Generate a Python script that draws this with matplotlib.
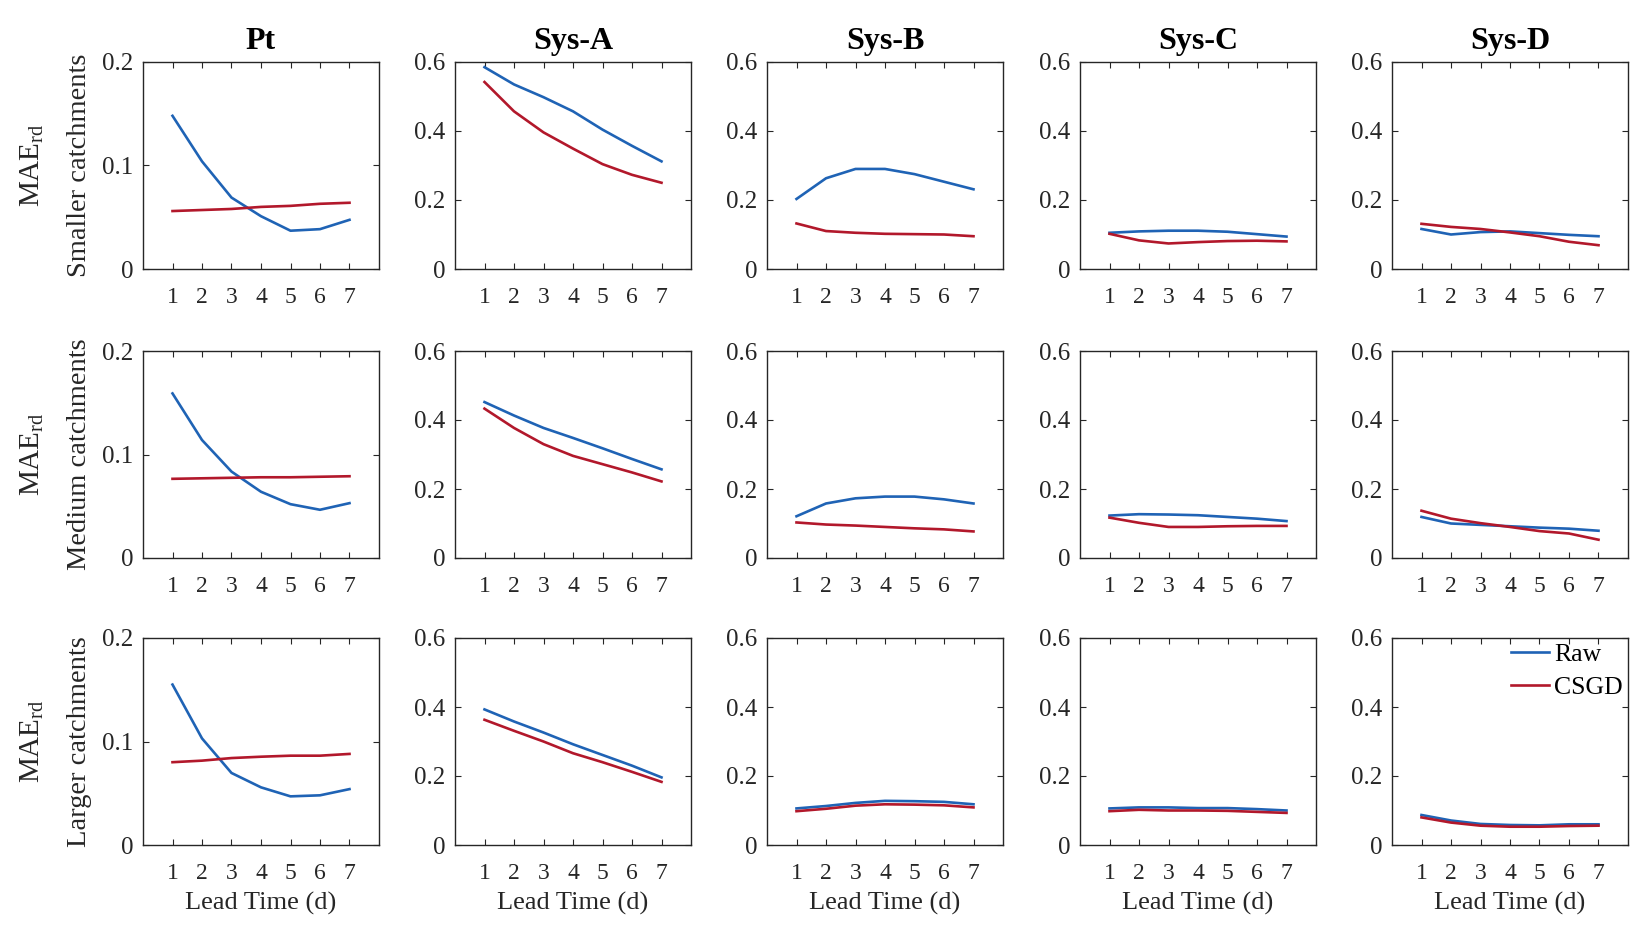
import numpy as np
import matplotlib
matplotlib.use('Agg')
import matplotlib.pyplot as plt
from matplotlib.ticker import FuncFormatter

plt.rcParams['font.family'] = 'Liberation Serif'
plt.rcParams['mathtext.fontset'] = 'custom'
plt.rcParams['mathtext.rm'] = 'Liberation Serif'
plt.rcParams['mathtext.it'] = 'Liberation Serif:italic'

lead_time = [1, 2, 3, 4, 5, 6, 7]
systems = ['Pt', 'Sys-A', 'Sys-B', 'Sys-C', 'Sys-D']
sizes = ['Smaller catchments', 'Medium catchments', 'Larger catchments']

# rows: smaller, medium, larger catchments
raw_pt = [[0.148, 0.104, 0.069, 0.051, 0.037, 0.0385, 0.0475],
          [0.159, 0.114, 0.0835, 0.064, 0.052, 0.0466, 0.053],
          [0.155, 0.103, 0.0696, 0.0557, 0.047, 0.048, 0.054]]
csgd_pt = [[0.056, 0.057, 0.058, 0.060, 0.061, 0.063, 0.064],
           [0.0765, 0.077, 0.0775, 0.078, 0.078, 0.0785, 0.079],
           [0.080, 0.0815, 0.084, 0.0853, 0.0863, 0.0863, 0.088]]
raw_a = [[0.585, 0.535, 0.498, 0.457, 0.404, 0.357, 0.312],
         [0.452, 0.413, 0.377, 0.348, 0.318, 0.287, 0.257],
         [0.393, 0.358, 0.326, 0.292, 0.261, 0.230, 0.196]]
csgd_a = [[0.542, 0.457, 0.396, 0.349, 0.304, 0.273, 0.250],
          [0.433, 0.377, 0.330, 0.296, 0.272, 0.248, 0.222],
          [0.363, 0.331, 0.300, 0.266, 0.240, 0.212, 0.183]]
raw_b = [[0.203, 0.263, 0.290, 0.290, 0.275, 0.253, 0.231],
         [0.121, 0.158, 0.173, 0.178, 0.178, 0.170, 0.158],
         [0.106, 0.113, 0.122, 0.128, 0.127, 0.125, 0.118]]
csgd_b = [[0.132, 0.110, 0.105, 0.102, 0.101, 0.100, 0.095],
          [0.103, 0.097, 0.094, 0.090, 0.086, 0.083, 0.077],
          [0.098, 0.105, 0.114, 0.118, 0.117, 0.115, 0.109]]
raw_c = [[0.105, 0.109, 0.111, 0.111, 0.108, 0.101, 0.094],
         [0.123, 0.127, 0.126, 0.124, 0.119, 0.114, 0.107],
         [0.106, 0.109, 0.109, 0.107, 0.107, 0.104, 0.100]]
csgd_c = [[0.102, 0.083, 0.074, 0.078, 0.081, 0.082, 0.080],
          [0.117, 0.102, 0.090, 0.090, 0.092, 0.093, 0.093],
          [0.098, 0.102, 0.100, 0.100, 0.099, 0.096, 0.093]]
raw_d = [[0.116, 0.100, 0.107, 0.109, 0.104, 0.099, 0.095],
         [0.119, 0.100, 0.096, 0.092, 0.088, 0.085, 0.079],
         [0.087, 0.071, 0.061, 0.058, 0.057, 0.060, 0.060]]
csgd_d = [[0.131, 0.122, 0.116, 0.106, 0.095, 0.079, 0.069],
          [0.137, 0.114, 0.101, 0.090, 0.078, 0.071, 0.053],
          [0.080, 0.065, 0.056, 0.053, 0.053, 0.055, 0.056]]

raw_all = [raw_pt, raw_a, raw_b, raw_c, raw_d]
csgd_all = [csgd_pt, csgd_a, csgd_b, csgd_c, csgd_d]
ymax = [0.2, 0.6, 0.6, 0.6, 0.6]
yticks_pt = [0, 0.1, 0.2]
yticks_sys = [0, 0.2, 0.4, 0.6]

blue = '#1f63b5'
red = '#b2182b'
dark = '#262626'

W, H = 1648, 944
fig = plt.figure(figsize=(W / 100, H / 100), dpi=100)

col_left = [143, 455, 767, 1080, 1392]
row_top = [62, 351, 638]
aw, ah = 236, 207

fmt = FuncFormatter(lambda v, p: f'{v:g}')

for r in range(3):
    for c in range(5):
        ax = fig.add_axes([col_left[c] / W, 1 - (row_top[r] + ah) / H, aw / W, ah / H])
        ax.plot(lead_time, raw_all[c][r], color=blue, lw=1.9, label='Raw')
        ax.plot(lead_time, csgd_all[c][r], color=red, lw=1.9, label='CSGD')
        ax.set_xlim(0, 8)
        ax.set_ylim(0, ymax[c])
        ax.set_xticks(lead_time)
        ax.set_yticks(yticks_pt if c == 0 else yticks_sys)
        ax.yaxis.set_major_formatter(fmt)
        ax.tick_params(direction='in', top=True, right=True, length=4, width=0.8,
                       colors=dark, labelcolor=dark)
        ax.tick_params(axis='x', labelsize=17, pad=13)
        ax.tick_params(axis='y', labelsize=18, pad=7)
        for s in ax.spines.values():
            s.set_color(dark)
            s.set_linewidth(1.0)
        if r == 0:
            ax.set_title(systems[c], fontsize=23, fontweight='bold', pad=9)
        if r == 2:
            ax.set_xlabel('Lead Time (d)', fontsize=19, color=dark, labelpad=6)
        if c == 0:
            ax.text(-0.47, 0.5, r'$\mathrm{MAE}_{\mathrm{rd}}$', transform=ax.transAxes,
                    rotation=90, ha='center', va='center', fontsize=21, color=dark)
            ax.text(-0.267, 0.5, sizes[r], transform=ax.transAxes,
                    rotation=90, ha='center', va='center', fontsize=20.5, color=dark)
        if r == 2 and c == 4:
            ax.legend(loc='upper right', frameon=False, fontsize=18.5,
                      handlelength=1.5, handletextpad=0.2, labelspacing=0.4,
                      borderaxespad=0.1, borderpad=0.1)

fig.savefig('out.png', dpi=100)
